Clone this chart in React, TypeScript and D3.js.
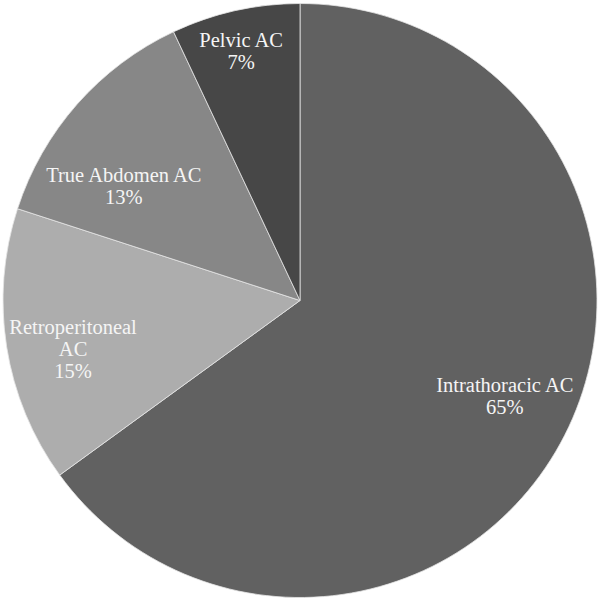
import React from "react";
import * as d3 from "d3";

const categories = ["Intrathoracic AC", "Retroperitoneal AC", "True Abdomen AC", "Pelvic AC"];
const values = [65, 15, 13, 7];
const labelLines = [["Intrathoracic AC"], ["Retroperitoneal", "AC"], ["True Abdomen AC"], ["Pelvic AC"]];
const colors = ["#616161", "#adadad", "#878787", "#474747"];

// label placement (layout only): angle in degrees clockwise from top, radius in px
const labelLayout = [
  { angle: 115, r: 226 },
  { angle: 258, r: 232 },
  { angle: 303, r: 210 },
  { angle: 346.7, r: 256 },
];

const W = 600;
const H = 602;
const CX = 300;
const CY = 300.5;
const R = 297;
const LINE = 22;
const FONT = "Liberation Serif, Times New Roman, serif";

export default function App() {
  const pie = d3.pie<number>().sort(null).value((d) => d);
  const arcs = pie(values);
  const arc = d3.arc<d3.PieArcDatum<number>>().innerRadius(0).outerRadius(R);

  return (
    <svg
      width={W}
      height={H}
      style={{ position: "absolute", left: 0, top: 0, background: "#fff" }}
    >
      <g transform={`translate(${CX},${CY})`}>
        {arcs.map((a, i) => (
          <path key={i} d={arc(a) || ""} fill={colors[i]} stroke="#e6e6e6" strokeWidth={0.8}>
            <title>{categories[i]}</title>
          </path>
        ))}
        {arcs.map((a, i) => {
          const t = (labelLayout[i].angle * Math.PI) / 180;
          const x = labelLayout[i].r * Math.sin(t);
          const y = -labelLayout[i].r * Math.cos(t);
          const lines = [...labelLines[i], `${values[i]}%`];
          const startY = y - ((lines.length - 1) * LINE) / 2;
          return (
            <text
              key={`l${i}`}
              x={x}
              y={startY}
              textAnchor="middle"
              dominantBaseline="central"
              fill="#f5f5f5"
              style={{ fontFamily: FONT, fontSize: "20.5px" }}
            >
              {lines.map((ln, j) => (
                <tspan key={j} x={x} y={startY + j * LINE}>
                  {ln}
                </tspan>
              ))}
            </text>
          );
        })}
      </g>
    </svg>
  );
}
